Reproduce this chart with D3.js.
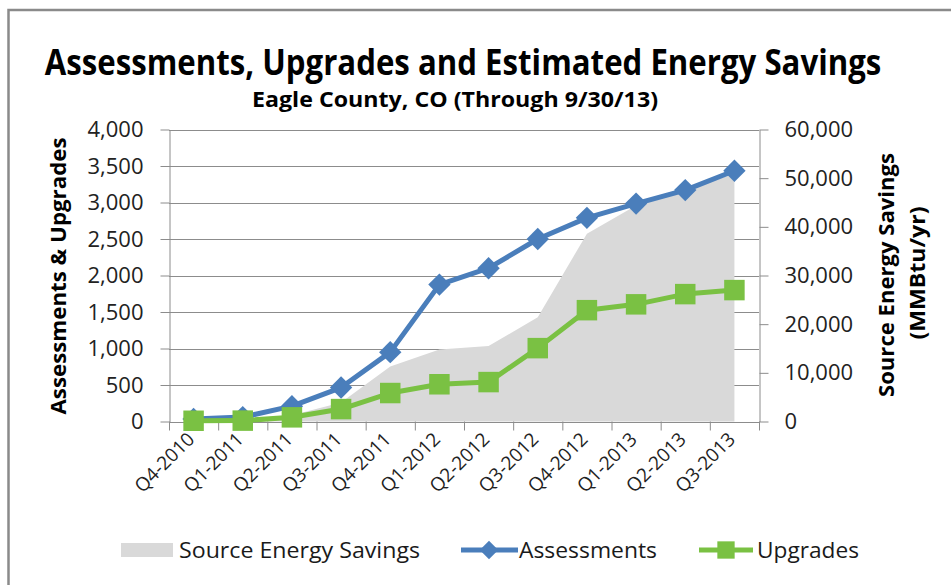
<!DOCTYPE html>
<html>
<head>
<meta charset="utf-8">
<script src="https://cdn.jsdelivr.net/npm/d3@7"></script>
<style>
  body { margin: 0; background: #fff; }
  text { font-family: "Open Sans", "Noto Sans", sans-serif; fill: #1a1a1a; }
</style>
</head>
<body>
<svg id="chart" width="951" height="585"></svg>
<script>
// data
const quarters = ["Q4-2010", "Q1-2011", "Q2-2011", "Q3-2011", "Q4-2011", "Q1-2012",
                  "Q2-2012", "Q3-2012", "Q4-2012", "Q1-2013", "Q2-2013", "Q3-2013"];
const assessments = [35, 60, 210, 465, 950, 1875, 2100, 2500, 2790, 2985, 3170, 3435];
const upgrades = [10, 12, 57, 170, 390, 510, 540, 1005, 1525, 1605, 1745, 1800];
const savings = [100, 400, 1300, 3900, 11300, 14800, 15500, 21400, 38600, 44400, 47500, 50900];
const leftTicks = [0, 500, 1000, 1500, 2000, 2500, 3000, 3500, 4000];
const rightTicks = [0, 10000, 20000, 30000, 40000, 50000, 60000];

const blue = "#4a7ebb", green = "#7ac143", grey = "#d9d9d9", lineGrey = "#8c8c8c";

let svg = d3.select("#chart");

// plot box
let plotLeft = 169, plotRight = 759, plotTop = 129.5, plotBottom = 421.5;

let x = d3.scaleBand().domain(quarters).range([plotLeft, plotRight]);
let cx = (d) => x(d) + x.bandwidth() / 2;
let yL = d3.scaleLinear().domain([0, 4000]).range([plotBottom, plotTop]);
let yR = d3.scaleLinear().domain([0, 60000]).range([plotBottom, plotTop]);

// outer frame
svg.append("rect")
    .attr("x", 8.5).attr("y", 10).attr("width", 1000).attr("height", 1000)
    .attr("fill", "none").attr("stroke", "#8a8a8a").attr("stroke-width", 2.5);

// title, squeezed horizontally to the width of the original
let titleG = svg.append("g");
let title = titleG.append("text")
    .attr("text-anchor", "middle")
    .attr("font-size", 36).attr("font-weight", "bold")
    .style("fill", "#000")
    .text("Assessments, Upgrades and Estimated Energy Savings");
let tw = title.node().getComputedTextLength();
titleG.attr("transform", "translate(463,75) scale(" + (837 / tw) + ",1)");

svg.append("text")
    .attr("x", 455).attr("y", 107)
    .attr("text-anchor", "middle")
    .attr("font-size", 22).attr("font-weight", "bold")
    .attr("textLength", 406).attr("lengthAdjust", "spacingAndGlyphs")
    .style("fill", "#000")
    .text("Eagle County, CO (Through 9/30/13)");

// gridlines
svg.append("g")
    .selectAll("line")
    .data(leftTicks)
    .join("line")
    .attr("x1", plotLeft).attr("x2", plotRight)
    .attr("y1", (d) => Math.round(yL(d)) + 0.5)
    .attr("y2", (d) => Math.round(yL(d)) + 0.5)
    .attr("stroke", lineGrey).attr("stroke-width", 1);

// savings area (right axis)
let sav = quarters.map((q, i) => ({q: q, v: savings[i]}));
svg.append("path")
    .datum(sav)
    .attr("fill", grey)
    .attr("d", d3.area()
        .x((d) => cx(d.q))
        .y0(yR(0))
        .y1((d) => yR(d.v)));

// left axis
let axL = svg.append("g")
    .attr("transform", "translate(" + (plotLeft + 0.5) + ",0)")
    .call(d3.axisLeft(yL).tickValues(leftTicks).tickFormat(d3.format(","))
        .tickSize(9).tickSizeOuter(0).tickPadding(17));

// right axis
let axR = svg.append("g")
    .attr("transform", "translate(" + (plotRight + 0.5) + ",0)")
    .call(d3.axisRight(yR).tickValues(rightTicks).tickFormat(d3.format(","))
        .tickSize(9).tickSizeOuter(0).tickPadding(16));

[axL, axR].forEach((a) => {
    a.selectAll("path, line").attr("stroke", lineGrey);
    a.selectAll("text")
        .attr("font-size", 22)
        .style("fill", "#222")
        .attr("font-family", "'Open Sans', sans-serif");
});

// bottom axis: line, boundary ticks, rotated labels
let axB = svg.append("g");
axB.append("line")
    .attr("x1", plotLeft).attr("x2", plotRight)
    .attr("y1", Math.round(plotBottom) + 0.5).attr("y2", Math.round(plotBottom) + 0.5)
    .attr("stroke", lineGrey);
axB.selectAll("line.tick")
    .data(quarters.concat(["end"]))
    .join("line")
    .attr("class", "tick")
    .attr("x1", (d) => (d === "end" ? plotRight : x(d)) + 0.5)
    .attr("x2", (d) => (d === "end" ? plotRight : x(d)) + 0.5)
    .attr("y1", plotBottom).attr("y2", plotBottom + 9)
    .attr("stroke", lineGrey);
axB.selectAll("text")
    .data(quarters)
    .join("text")
    .attr("transform", (d) => "translate(" + (cx(d) + 2) + "," + (plotBottom + 19) + ") rotate(-45)")
    .attr("text-anchor", "end")
    .attr("font-size", 19)
    .style("fill", "#222")
    .text((d) => d);

// axis titles
svg.append("text")
    .attr("transform", "translate(66,276) rotate(-90)")
    .attr("text-anchor", "middle")
    .attr("font-size", 21).attr("font-weight", "bold")
    .attr("textLength", 277).attr("lengthAdjust", "spacingAndGlyphs")
    .style("fill", "#000")
    .text("Assessments & Upgrades");

svg.append("text")
    .attr("transform", "translate(894,275) rotate(-90)")
    .attr("text-anchor", "middle")
    .attr("font-size", 21).attr("font-weight", "bold")
    .attr("textLength", 244).attr("lengthAdjust", "spacingAndGlyphs")
    .style("fill", "#000")
    .text("Source Energy Savings");

svg.append("text")
    .attr("transform", "translate(925,273) rotate(-90)")
    .attr("text-anchor", "middle")
    .attr("font-size", 21).attr("font-weight", "bold")
    .attr("textLength", 133).attr("lengthAdjust", "spacingAndGlyphs")
    .style("fill", "#000")
    .text("(MMBtu/yr)");

// lines + markers
let diamond = d3.symbol(d3.symbolSquare, 250);
let square = d3.symbol(d3.symbolSquare, 420);

function drawSeries(values, color, sym, rot) {
    let pts = quarters.map((q, i) => ({q: q, v: values[i]}));
    svg.append("path")
        .datum(pts)
        .attr("fill", "none")
        .attr("stroke", color)
        .attr("stroke-width", 5)
        .attr("stroke-linejoin", "round")
        .attr("d", d3.line()
            .x((d) => cx(d.q))
            .y((d) => yL(d.v)));
    svg.append("g")
        .selectAll("path")
        .data(pts)
        .join("path")
        .attr("d", sym)
        .attr("fill", color)
        .attr("transform", (d) => "translate(" + cx(d.q) + "," + yL(d.v) + ") rotate(" + rot + ")");
}

drawSeries(assessments, blue, diamond, 45);
drawSeries(upgrades, green, square, 0);

// legend
let lg = svg.append("g");
lg.append("rect")
    .attr("x", 121).attr("y", 543).attr("width", 52).attr("height", 14)
    .attr("fill", grey);
lg.append("text").attr("x", 179).attr("y", 558).attr("font-size", 22)
    .attr("textLength", 241).attr("lengthAdjust", "spacingAndGlyphs")
    .text("Source Energy Savings");

lg.append("line").attr("x1", 461).attr("x2", 518).attr("y1", 550).attr("y2", 550)
    .attr("stroke", blue).attr("stroke-width", 5);
lg.append("path").attr("d", d3.symbol(d3.symbolSquare, 170))
    .attr("fill", blue).attr("transform", "translate(489,550) rotate(45)");
lg.append("text").attr("x", 519).attr("y", 558).attr("font-size", 22)
    .attr("textLength", 138).attr("lengthAdjust", "spacingAndGlyphs")
    .text("Assessments");

lg.append("line").attr("x1", 699).attr("x2", 753).attr("y1", 550).attr("y2", 550)
    .attr("stroke", green).attr("stroke-width", 5);
lg.append("path").attr("d", d3.symbol(d3.symbolSquare, 300))
    .attr("fill", green).attr("transform", "translate(726,550)");
lg.append("text").attr("x", 757).attr("y", 558).attr("font-size", 22)
    .attr("textLength", 102).attr("lengthAdjust", "spacingAndGlyphs")
    .text("Upgrades");
</script>
</body>
</html>
